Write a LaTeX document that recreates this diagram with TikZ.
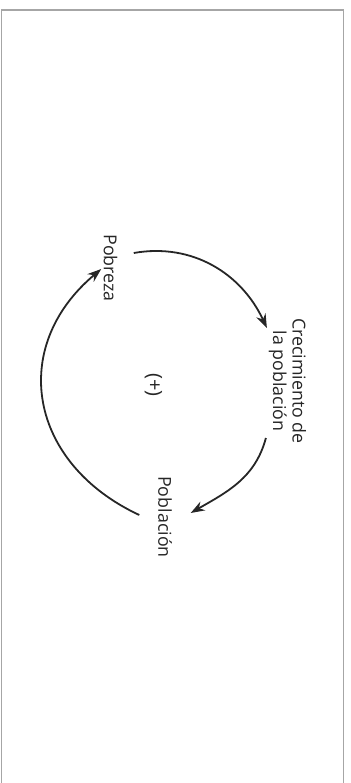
\documentclass[tikz,border=0pt]{standalone}
\usepackage{fontspec}
\setmainfont{Open Sans}
\usetikzlibrary{arrows.meta}
\tikzset{lazo/.style = {line width=0.9pt, black!85, -{Stealth[length=7pt,width=5pt]}}}
\tikzset{etiq/.style = {rotate=-90, inner sep=0, text=black!85, font=\fontsize{8.9}{9.8}\selectfont}}
\tikzset{marco/.style = {gray!70, line width=0.7pt}}

\begin{document}
\begin{tikzpicture}[x=0.5pt, y=0.5pt]
      \useasboundingbox (0,0) rectangle (351,783);
      \draw[marco] (1.5,0) |- (343.5,773) -- (343.5,0);

      \node[etiq] (pob) at (110.5,515) {Pobreza};
      \node[etiq, align=center] (crec) at (287.5,402) {Crecimiento de\\la población};
      \node[etiq] (pobl) at (165,266) {Población};
      \node[etiq, font=\fontsize{10}{11}\selectfont] (signo) at (153.5,398) {(+)};

      \draw[lazo] ([xshift=8pt,yshift=7.5pt]pob.north) to[out=10,in=115] ([xshift=-0.75pt,yshift=26.5pt]crec.south);
      \draw[lazo] ([xshift=-1.25pt,yshift=-28.5pt]crec.south) to[out=-105,in=30] ([xshift=9.2pt,yshift=2pt]pobl.north);
      \draw[lazo] ([xshift=-9.2pt,yshift=1pt]pobl.south) to[out=155,in=220,looseness=1.25] ([xshift=-1pt,yshift=-0.5pt]pob.south);
    \end{tikzpicture}
\end{document}
